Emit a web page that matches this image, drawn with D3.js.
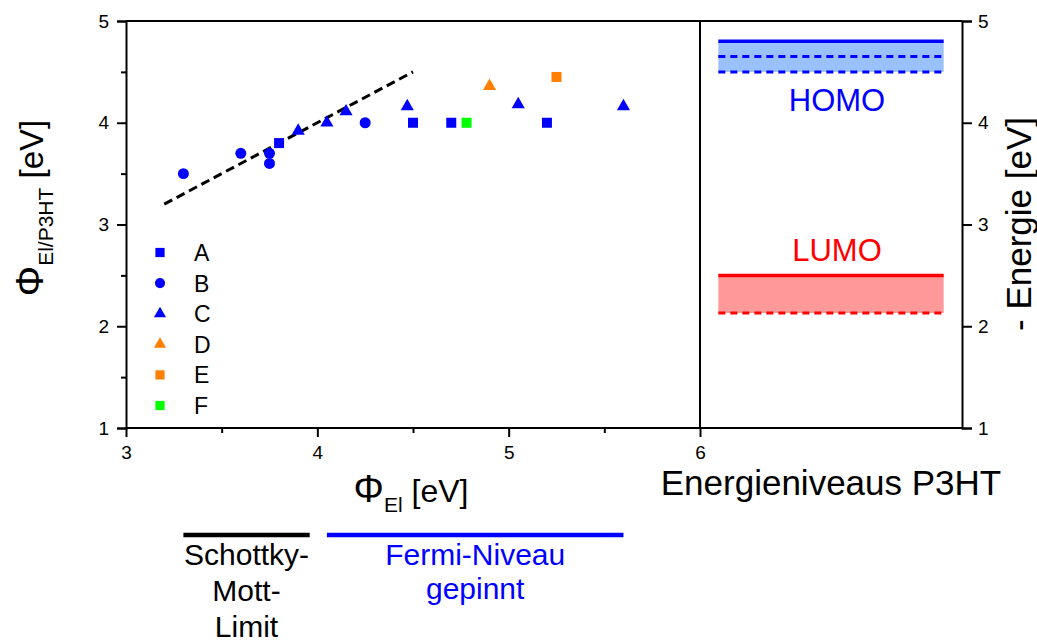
<!DOCTYPE html>
<html>
<head>
<meta charset="utf-8">
<script src="https://cdn.jsdelivr.net/npm/d3@7"></script>
<style>
  body { margin: 0; background: #fff; }
  svg text { font-family: "Liberation Sans", Arial, sans-serif; }
</style>
</head>
<body>
<script>
// ------------------------------ Data ------------------------------ //
// [Phi_El, Phi_El/P3HT] in eV for each sample series
var seriesNames = ["A", "B", "C", "D", "E", "F"];
var seriesA = [[3.80, 3.80], [4.50, 4.00], [4.70, 4.00], [5.20, 4.00]];
var seriesB = [[3.30, 3.50], [3.60, 3.70], [3.75, 3.70], [3.75, 3.60], [4.25, 4.00]];
var seriesC = [[3.90, 3.92], [4.05, 4.00], [4.15, 4.11], [4.47, 4.16], [5.05, 4.18], [5.60, 4.16]];
var seriesD = [[4.90, 4.36]];
var seriesE = [[5.25, 4.45]];
var seriesF = [[4.78, 4.00]];

// Schottky-Mott limit (slope 1)
var schottkyLine = [[3.2, 3.2], [4.5, 4.5]];

// P3HT energy levels (eV)
var homoSolid = 4.80, homoDashed = [4.65, 4.50];
var lumoSolid = 2.50, lumoDashed = [2.13];

// ranges marked under the x axis
var schottkyRange = [3.30, 3.96];
var fermiRange = [4.05, 5.60];

var xTicks = [3, 4, 5, 6], xMinor = [3.5, 4.5, 5.5];
var yTicks = [1, 2, 3, 4, 5], yMinor = [1.5, 2.5, 3.5, 4.5];

// ------------------------------ SVG ------------------------------ //
var width = 1037, height = 643;
var svg = d3.select("body").append("svg")
    .attr("width", width)
    .attr("height", height);

var x = d3.scaleLinear().domain([3, 6]).range([126, 700]);
var y = d3.scaleLinear().domain([1, 5]).range([428, 21]);
// energy panel to the right of x = 6
var xe = d3.scaleLinear().domain([0, 1]).range([700, 962]);

var blue = "#0000ff", orange = "#ff7f00", green = "#00ff00";
var series = [
    {name: seriesNames[0], data: seriesA, shape: d3.symbolSquare, color: blue, size: 100},
    {name: seriesNames[1], data: seriesB, shape: d3.symbolCircle, color: blue, size: 95},
    {name: seriesNames[2], data: seriesC, shape: d3.symbolTriangle, color: blue, size: 75},
    {name: seriesNames[3], data: seriesD, shape: d3.symbolTriangle, color: orange, size: 75},
    {name: seriesNames[4], data: seriesE, shape: d3.symbolSquare, color: orange, size: 100},
    {name: seriesNames[5], data: seriesF, shape: d3.symbolSquare, color: green, size: 100}
];

// ------------------------------ Energy levels ------------------------------ //
var lvl = svg.append("g").attr("class", "levels");
function drawLevel(solid, dashed, fill, stroke) {
    var lo = d3.min(dashed);
    lvl.append("rect")
        .attr("x", xe(0.07))
        .attr("width", xe(0.93) - xe(0.07))
        .attr("y", y(Math.max(solid, lo)))
        .attr("height", Math.abs(y(lo) - y(solid)))
        .attr("fill", fill);
    lvl.append("line")
        .attr("x1", xe(0.07)).attr("x2", xe(0.93))
        .attr("y1", y(solid)).attr("y2", y(solid))
        .attr("stroke", stroke).attr("stroke-width", 3.5);
    dashed.forEach(function(v) {
        lvl.append("line")
            .attr("x1", xe(0.07)).attr("x2", xe(0.93))
            .attr("y1", y(v)).attr("y2", y(v))
            .attr("stroke", stroke).attr("stroke-width", 3)
            .attr("stroke-dasharray", "7,5");
    });
}
drawLevel(homoSolid, homoDashed, "#99c0ff", blue);
drawLevel(lumoSolid, lumoDashed, "#ff9999", "#ff0000");

lvl.append("text")
    .attr("x", 837).attr("y", 111)
    .attr("text-anchor", "middle")
    .attr("font-size", 31)
    .attr("fill", blue)
    .text("HOMO");
lvl.append("text")
    .attr("x", 837).attr("y", 261)
    .attr("text-anchor", "middle")
    .attr("font-size", 31)
    .attr("fill", "#ff0000")
    .text("LUMO");

// ------------------------------ Axes ------------------------------ //
function styleAxis(a) {
    a.selectAll("path, line").attr("stroke", "#000").attr("stroke-width", 2);
    a.selectAll("text").attr("font-size", 19).attr("fill", "#000")
        .style("font-family", "Liberation Sans, Arial, sans-serif");
}

var gl = svg.append("g").attr("transform", "translate(" + x(3) + ",0)")
    .call(d3.axisLeft(y).tickValues(yTicks).tickSize(9).tickPadding(8).tickFormat(d3.format("d")));
styleAxis(gl);
var glm = svg.append("g").attr("transform", "translate(" + x(3) + ",0)")
    .call(d3.axisLeft(y).tickValues(yMinor).tickSize(5).tickFormat(""));
styleAxis(glm);
glm.select(".domain").remove();

var gb = svg.append("g").attr("transform", "translate(0," + y(1) + ")")
    .call(d3.axisBottom(x).tickValues(xTicks).tickSize(9).tickPadding(9).tickFormat(d3.format("d")));
styleAxis(gb);
gb.select(".domain").remove();
var gbm = svg.append("g").attr("transform", "translate(0," + y(1) + ")")
    .call(d3.axisBottom(x).tickValues(xMinor).tickSize(5).tickFormat(""));
styleAxis(gbm);
gbm.select(".domain").remove();

var gr = svg.append("g").attr("transform", "translate(" + xe(1) + ",0)")
    .call(d3.axisRight(y).tickValues(yTicks).tickSize(10).tickPadding(6).tickFormat(d3.format("d")));
styleAxis(gr);

// frame: top, bottom, divider at x = 6
var frame = svg.append("g").attr("stroke", "#000").attr("stroke-width", 2);
frame.append("line").attr("x1", x(3)).attr("x2", xe(1)).attr("y1", y(5)).attr("y2", y(5));
frame.append("line").attr("x1", x(3)).attr("x2", xe(1)).attr("y1", y(1)).attr("y2", y(1));
frame.append("line").attr("x1", x(6)).attr("x2", x(6)).attr("y1", y(5)).attr("y2", y(1));

// ------------------------------ Data marks ------------------------------ //
svg.append("path")
    .datum(schottkyLine)
    .attr("fill", "none")
    .attr("stroke", "#000")
    .attr("stroke-width", 3)
    .attr("stroke-dasharray", "9,5")
    .attr("d", d3.line().x(function(d) { return x(d[0]); }).y(function(d) { return y(d[1]); }));

var pts = svg.append("g").attr("class", "points");
series.forEach(function(s) {
    pts.selectAll(null)
        .data(s.data)
        .enter().append("path")
            .attr("transform", function(d) { return "translate(" + x(d[0]) + "," + y(d[1]) + ")"; })
            .attr("d", d3.symbol().type(s.shape).size(s.size))
            .attr("fill", s.color);
});

// legend
var legend = svg.append("g").attr("class", "legend");
series.forEach(function(s, i) {
    var ly = 252.5 + i * 30.6;
    legend.append("path")
        .attr("transform", "translate(160," + ly + ")")
        .attr("d", d3.symbol().type(s.shape).size(s.size * 0.85))
        .attr("fill", s.color);
    legend.append("text")
        .attr("x", 194).attr("y", ly + 8.5)
        .attr("font-size", 23)
        .text(s.name);
});

// ------------------------------ Titles ------------------------------ //
var xt = svg.append("text")
    .attr("x", 411).attr("y", 502)
    .attr("text-anchor", "middle")
    .attr("font-size", 32);
xt.append("tspan").attr("font-size", 38).text("\u03A6");
xt.append("tspan").attr("font-size", 21).attr("dy", 10).text("El");
xt.append("tspan").attr("dy", -10).text(" [eV]");

svg.append("text")
    .attr("x", 831).attr("y", 495)
    .attr("text-anchor", "middle")
    .attr("font-size", 35)
    .text("Energieniveaus P3HT");

var yt = svg.append("text")
    .attr("transform", "translate(43,208) rotate(-90)")
    .attr("text-anchor", "middle")
    .attr("font-size", 33);
yt.append("tspan").attr("font-size", 38).text("\u03A6");
yt.append("tspan").attr("font-size", 21).attr("dy", 10).text("El/P3HT");
yt.append("tspan").attr("dy", -10).text(" [eV]");

svg.append("text")
    .attr("transform", "translate(1031,224) rotate(-90)")
    .attr("text-anchor", "middle")
    .attr("font-size", 35)
    .text("- Energie [eV]");

// ------------------------------ Regime brackets ------------------------------ //
var br = svg.append("g").attr("class", "regimes");
br.append("line")
    .attr("x1", x(schottkyRange[0])).attr("x2", x(schottkyRange[1]))
    .attr("y1", 535).attr("y2", 535)
    .attr("stroke", "#000").attr("stroke-width", 4.5);
br.append("line")
    .attr("x1", x(fermiRange[0])).attr("x2", x(fermiRange[1]))
    .attr("y1", 535).attr("y2", 535)
    .attr("stroke", blue).attr("stroke-width", 4.5);

var smx = (x(schottkyRange[0]) + x(schottkyRange[1])) / 2;
[["Schottky-", 565], ["Mott-", 601], ["Limit", 637]].forEach(function(t) {
    br.append("text")
        .attr("x", smx).attr("y", t[1])
        .attr("text-anchor", "middle")
        .attr("font-size", 30)
        .attr("fill", "#000")
        .text(t[0]);
});
var fmx = (x(fermiRange[0]) + x(fermiRange[1])) / 2;
[["Fermi-Niveau", 565], ["gepinnt", 599]].forEach(function(t) {
    br.append("text")
        .attr("x", fmx).attr("y", t[1])
        .attr("text-anchor", "middle")
        .attr("font-size", 30)
        .attr("fill", blue)
        .text(t[0]);
});
</script>
</body>
</html>
